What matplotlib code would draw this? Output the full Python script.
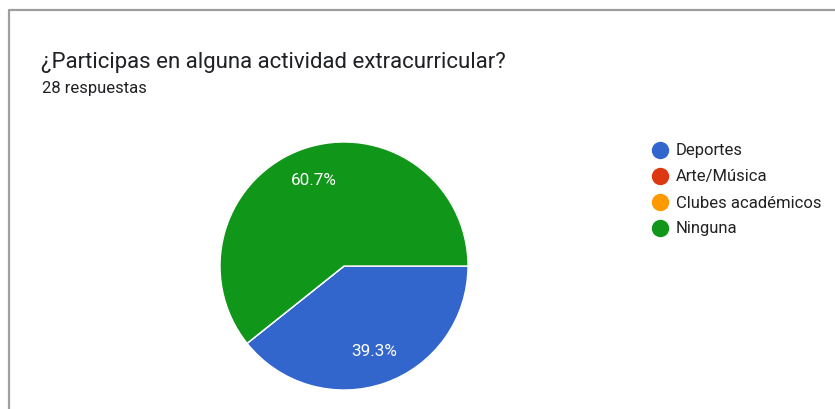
import matplotlib
matplotlib.use("Agg")
import matplotlib.pyplot as plt

plt.rcParams['font.family'] = ['Roboto', 'DejaVu Sans']

title = "¿Participas en alguna actividad extracurricular?"
subtitle = "28 respuestas"
categories = ["Deportes", "Arte/Música", "Clubes académicos", "Ninguna"]
counts = [11, 0, 0, 17]
colors = ["#3366CC", "#DC3912", "#FF9900", "#109618"]

W, H = 835, 409
fig = plt.figure(figsize=(W / 100, H / 100), dpi=100)

# full-figure overlay in pixel coordinates for frame, titles and legend
bg = fig.add_axes([0, 0, 1, 1])
bg.set_xlim(0, W)
bg.set_ylim(H, 0)
bg.axis("off")
bg.plot([9, 9, W], [H, 10, 10], color="#9e9e9e", lw=1.6, solid_capstyle="butt")
bg.text(41, 68, title, fontsize=16, color="#202124", va="baseline")
bg.text(42, 93, subtitle, fontsize=12, color="#202124", va="baseline")

for i, (name, col) in enumerate(zip(categories, colors)):
    y = 150 + i * 26
    bg.plot(660, y, "o", ms=11.5, color=col, mec=col)
    bg.text(676, y + 1, name, fontsize=12, color="#222222", va="center")

# pie, centre (344, 266) px, radius 124 px
cx, cy, r = 344, 266, 124
pie_ax = fig.add_axes([(cx - r) / W, (H - cy - r) / H, 2 * r / W, 2 * r / H])


def pct_label(p):
    return f"{p:.1f}%" if p > 0 else ""


pie_ax.pie(counts, colors=colors, startangle=0, counterclock=False,
           autopct=pct_label, pctdistance=0.73,
           wedgeprops=dict(edgecolor="white", linewidth=1),
           textprops=dict(color="white", fontsize=12.3))
pie_ax.set_xlim(-1, 1)
pie_ax.set_ylim(-1, 1)

fig.savefig("out.png", dpi=100)
